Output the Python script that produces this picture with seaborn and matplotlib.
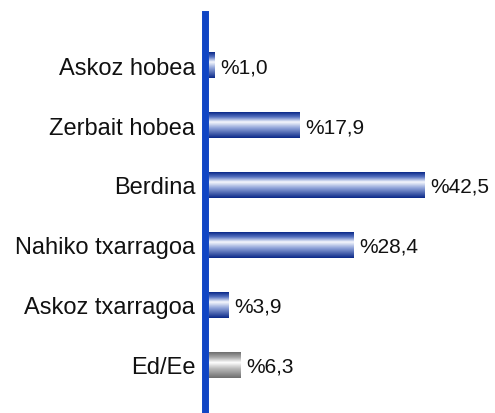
import numpy as np
import pandas as pd
import seaborn as sns
import matplotlib.pyplot as plt
from matplotlib.colors import LinearSegmentedColormap

# answers and shares (%)
categories = ['Askoz hobea', 'Zerbait hobea', 'Berdina', 'Nahiko txarragoa',
              'Askoz txarragoa', 'Ed/Ee']
values = [1.0, 17.9, 42.5, 28.4, 3.9, 6.3]

df = pd.DataFrame({'cat': categories, 'val': values})

sns.set_style('white')
plt.rcParams['font.family'] = ['Liberation Sans', 'DejaVu Sans']

fig = plt.figure(figsize=(4.95, 4.14), dpi=100)
ax = fig.add_axes([208.5 / 495, 0, 286.5 / 495, 399 / 414])

sns.barplot(data=df, x='val', y='cat', orient='h', color='#1a3c9c',
            width=0.434, ax=ax)

blue = LinearSegmentedColormap.from_list('blue', [
    (0.0, '#0a2888'), (0.18, '#5470c0'), (0.38, '#f6f8fd'),
    (0.62, '#8ea2d8'), (1.0, '#0a2888')])
grey = LinearSegmentedColormap.from_list('grey', [
    (0.0, '#6e6e6e'), (0.2, '#a8a8a8'), (0.4, '#ffffff'),
    (0.65, '#b8b8b8'), (1.0, '#6e6e6e')])
grad = np.linspace(0, 1, 128).reshape(-1, 1)

for i, p in enumerate(ax.patches):
    x0, y0 = p.get_x(), p.get_y()
    w, h = p.get_width(), p.get_height()
    cmap = grey if categories[i] == 'Ed/Ee' else blue
    im = ax.imshow(grad, cmap=cmap, aspect='auto', origin='upper',
                   extent=(x0, x0 + w, y0 + h, y0), zorder=2)
    im.set_clip_path(p)
    p.set_facecolor('none')
    p.set_edgecolor('none')
    label = '%' + f'{values[i]:.1f}'.replace('.', ',')
    ax.annotate(label, (x0 + w, y0 + h / 2), xytext=(4.5, -1),
                textcoords='offset points', va='center', ha='left',
                fontsize=15, color='#111111')

ax.set_xlim(0, 56.5)
ax.set_ylim(5.81, -0.857)
ax.set_xlabel('')
ax.set_ylabel('')
ax.set_xticks([])
ax.tick_params(axis='y', length=0, pad=7, labelsize=17, labelcolor='#111111')
for s in ['top', 'right', 'bottom']:
    ax.spines[s].set_visible(False)
ax.spines['left'].set_color('#1045c4')
ax.spines['left'].set_linewidth(5)
ax.spines['left'].set_position(('outward', 2.5))
ax.patch.set_alpha(0)

fig.savefig('out.png', dpi=100)
